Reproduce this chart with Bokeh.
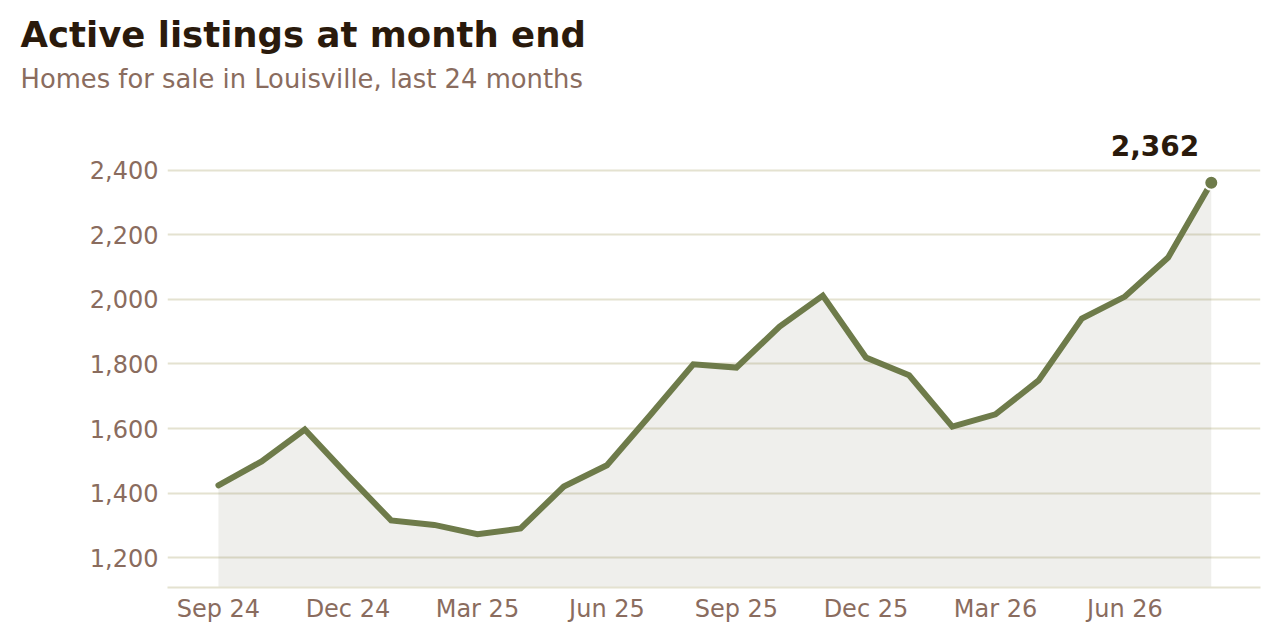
from bokeh.plotting import figure
from bokeh.embed import file_html
from bokeh.resources import INLINE
from bokeh.models import ColumnDataSource, FixedTicker, NumeralTickFormatter, Title, Range1d
from bokeh.core.properties import value

# Data
months = ["Sep 24", "Oct 24", "Nov 24", "Dec 24", "Jan 25", "Feb 25", "Mar 25", "Apr 25",
          "May 25", "Jun 25", "Jul 25", "Aug 25", "Sep 25", "Oct 25", "Nov 25", "Dec 25",
          "Jan 26", "Feb 26", "Mar 26", "Apr 26", "May 26", "Jun 26", "Jul 26", "Aug 26"]
listings = [1424, 1498, 1597, 1454, 1315, 1301, 1272, 1290, 1420, 1486, 1641, 1799,
            1789, 1916, 2012, 1820, 1765, 1606, 1644, 1749, 1941, 2009, 2130, 2362]
y_ticks = [1200, 1400, 1600, 1800, 2000, 2200, 2400]
x_tick_labels = ["Sep 24", "Dec 24", "Mar 25", "Jun 25", "Sep 25", "Dec 25", "Mar 26", "Jun 26"]

idx = list(range(len(months)))
y_floor = 1107
source = ColumnDataSource(data=dict(x=idx, y=listings, base=[y_floor] * len(idx)))

FONT = "DejaVu Sans"
DARK = "#2a1a0c"
MUTED = "#8a6c5e"
GRID = "#e4e2d0"
LINE = "#6e7b4a"

p = figure(
    width=1272, height=632, output_backend="svg", toolbar_location=None, tools="",
    x_range=Range1d(-1.18, 24.14), y_range=Range1d(y_floor, 2555),
    min_border_left=167, min_border_right=12, min_border_bottom=45, min_border_top=120,
)

# Titles (title standoff acts at half its value inside the panel)
p.title.text = "Active listings at month end"
p.title.text_font = FONT
p.title.text_font_size = "35.5px"
p.title.text_font_style = "bold"
p.title.text_color = DARK
p.title.offset = -147
p.title.standoff = -38
sub = Title(text="Homes for sale in Louisville, last 24 months", text_font=FONT,
            text_font_size="25.8px", text_font_style="normal", text_color=MUTED,
            offset=-147, standoff=53)
p.add_layout(sub, "above")

# Area and line
p.varea(x="x", y1="base", y2="y", source=source, fill_color="#787d5f", fill_alpha=0.12)
p.line(x="x", y="y", source=source, line_color=LINE, line_width=6,
       line_cap="round", line_join="miter")

last = ColumnDataSource(data=dict(x=[idx[-1]], y=[listings[-1]], label=[f"{listings[-1]:,}"]))
p.scatter(x="x", y="y", source=last, size=14, fill_color=LINE, line_color="white", line_width=2)
p.text(x="x", y="y", text="label", source=last, text_font=value(FONT), text_font_size="28px",
       text_font_style="bold", text_color=DARK, text_align="right", text_baseline="bottom",
       x_offset=-12, y_offset=-27)

# Axes
p.yaxis.ticker = FixedTicker(ticks=y_ticks)
p.yaxis.formatter = NumeralTickFormatter(format="0,0")
p.xaxis.ticker = FixedTicker(ticks=[months.index(m) for m in x_tick_labels])
p.xaxis.major_label_overrides = {months.index(m): m for m in x_tick_labels}

for ax in (p.xaxis, p.yaxis):
    ax.major_label_text_font = FONT
    ax.major_label_text_font_size = "24px"
    ax.major_label_text_color = MUTED
    ax.major_tick_line_color = None
    ax.minor_tick_line_color = None
p.yaxis.axis_line_color = None
p.yaxis.major_label_standoff = 3
p.xaxis.axis_line_color = GRID
p.xaxis.axis_line_width = 2
p.xaxis.major_label_standoff = 1

p.xgrid.grid_line_color = None
p.ygrid.grid_line_color = GRID
p.ygrid.grid_line_width = 2
p.outline_line_color = None
p.background_fill_color = "white"
p.border_fill_color = "white"

open("out.html", "w").write(file_html(p, INLINE))
